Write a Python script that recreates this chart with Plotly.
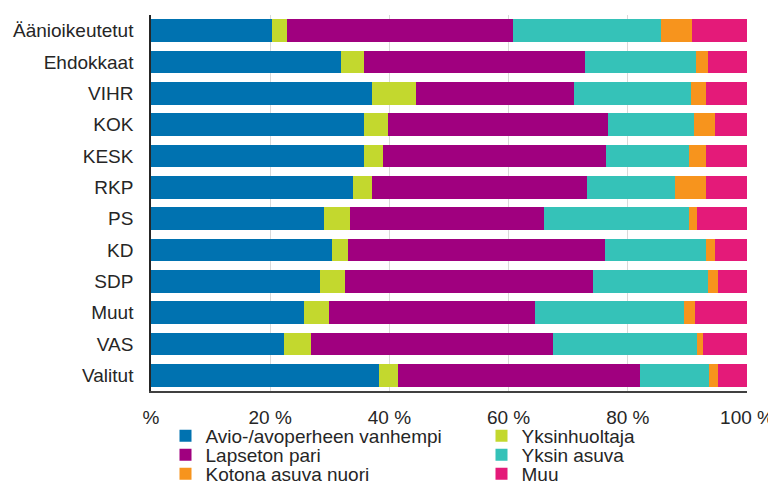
import plotly.graph_objects as go

categories = ["Äänioikeutetut", "Ehdokkaat", "VIHR", "KOK", "KESK", "RKP",
              "PS", "KD", "SDP", "Muut", "VAS", "Valitut"]

avio = [20.3, 31.8, 37.1, 35.8, 35.8, 33.9, 29.0, 30.4, 28.3, 25.6, 22.3, 38.2]
yksinhuoltaja = [2.6, 4.0, 7.3, 4.0, 3.2, 3.2, 4.4, 2.7, 4.3, 4.3, 4.6, 3.2]
lapseton = [37.9, 37.1, 26.6, 36.8, 37.3, 36.0, 32.5, 43.0, 41.6, 34.6, 40.6, 40.6]
yksin_asuva = [24.8, 18.5, 19.6, 14.5, 14.0, 14.8, 24.4, 17.1, 19.3, 25.0, 24.1, 11.7]
kotona = [5.1, 2.1, 2.6, 3.5, 2.9, 5.3, 1.3, 1.4, 1.6, 1.8, 1.1, 1.4]
muu = [9.3, 6.5, 6.8, 5.4, 6.8, 6.8, 8.4, 5.4, 4.9, 8.7, 7.3, 4.9]

series_names = ["Avio-/avoperheen vanhempi", "Yksinhuoltaja", "Lapseton pari",
                "Yksin asuva", "Kotona asuva nuori", "Muu"]
series_values = [avio, yksinhuoltaja, lapseton, yksin_asuva, kotona, muu]
colors = ["#0072B0", "#C3D82E", "#A0007F", "#35C2B8", "#F7941D", "#E41A79"]

tick_vals = [0, 20, 40, 60, 80, 100]
tick_text = ["%", "20 %", "40 %", "60 %", "80 %", "100 %"]

FONT = "Liberation Sans, Arial, sans-serif"
TXT = "#262626"

# the page body has an 8px margin, so the figure is 8px smaller than the window
W, H = 768, 478
L, R, T, B = 143, 29, 7, 95
PW, PH = W - L - R, H - T - B

# legend grid: 2 columns, 3 rows (one legend per entry for exact placement)
leg_cols = [157.5, 473.5]
leg_rows = [428, 447, 466]

fig = go.Figure()
legend_layout = {}
for i, (name, vals, col) in enumerate(zip(series_names, series_values, colors)):
    lname = "legend" if i == 0 else f"legend{i + 1}"
    fig.add_trace(go.Bar(
        y=categories, x=vals, name=name, orientation="h",
        marker=dict(color=col, line=dict(width=0)),
        legend=lname,
    ))
    legend_layout[lname] = dict(
        xref="paper", yref="paper", orientation="h",
        x=(leg_cols[i % 2] - L) / PW, y=(H - B - leg_rows[i // 2]) / PH,
        xanchor="left", yanchor="middle",
        font=dict(family=FONT, size=19, color=TXT),
        bgcolor="rgba(0,0,0,0)", itemwidth=30,
    )

fig.update_layout(
    width=W, height=H,
    barmode="stack", bargap=0.27,
    plot_bgcolor="white", paper_bgcolor="white",
    margin=dict(l=L, r=R, t=T, b=B, autoexpand=False),
    font=dict(family=FONT, size=19, color=TXT),
    showlegend=True,
    xaxis=dict(
        range=[0, 100], tickvals=tick_vals, ticktext=tick_text,
        showgrid=True, gridcolor="#d9d9d9", gridwidth=1,
        showline=True, linecolor="#404040", linewidth=2,
        ticks="outside", ticklen=8, tickcolor="rgba(0,0,0,0)",
        zeroline=False, automargin=False,
    ),
    yaxis=dict(
        categoryorder="array", categoryarray=categories, autorange="reversed",
        showline=True, linecolor="#262626", linewidth=1.5,
        ticks="outside", ticklen=12, tickcolor="rgba(0,0,0,0)",
        showgrid=False, zeroline=False, automargin=False,
    ),
    **legend_layout,
)

fig.write_html("out.html")
